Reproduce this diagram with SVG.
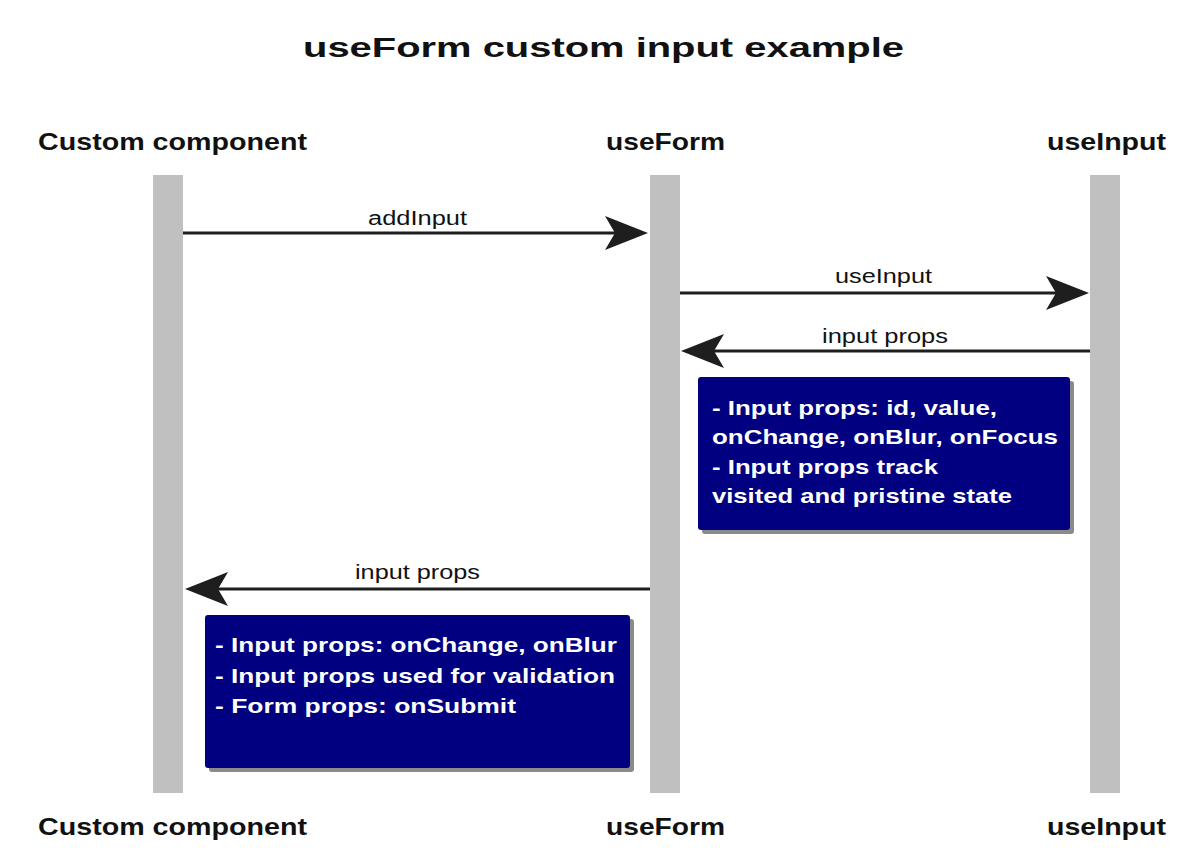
<svg xmlns="http://www.w3.org/2000/svg" width="1204" height="862" viewBox="0 0 1204 862">
<style>
.title{font-family:"Liberation Sans",Arial,sans-serif;font-weight:bold;font-size:27px;fill:#111}
.actor{font-family:"Liberation Sans",Arial,sans-serif;font-weight:bold;font-size:24px;fill:#111}
.msg{font-family:"Liberation Sans",Arial,sans-serif;font-size:20px;fill:#111}
.note{font-family:"Liberation Sans",Arial,sans-serif;font-weight:bold;font-size:21px;fill:#fff}
.bar{fill:#c0c0c0}
.box{fill:#000080}
.shadow{fill:#8a8a8a}
.line{stroke:#1e1e1e;stroke-width:3;fill:none}
</style>
<defs>
<marker id="ah" viewBox="0 0 43 34" refX="13" refY="17" markerWidth="43" markerHeight="34" markerUnits="userSpaceOnUse" orient="auto">
<path d="M0,0 L43,17 L0,34 L10,17 Z" fill="#1e1e1e"/>
</marker>
</defs>
<rect width="1204" height="862" fill="#fff"/>
<text class="title" x="303" y="57" textLength="601" lengthAdjust="spacingAndGlyphs">useForm custom input example</text>

<g id="custom-component">
<rect class="bar" x="153" y="175" width="30" height="618"/>
<text class="actor" x="38" y="150" textLength="269" lengthAdjust="spacingAndGlyphs">Custom component</text>
<text class="actor" x="38" y="835" textLength="269" lengthAdjust="spacingAndGlyphs">Custom component</text>
</g>
<g id="useForm">
<rect class="bar" x="650" y="175" width="30" height="618"/>
<text class="actor" x="606" y="150" textLength="119" lengthAdjust="spacingAndGlyphs">useForm</text>
<text class="actor" x="606" y="835" textLength="119" lengthAdjust="spacingAndGlyphs">useForm</text>
</g>
<g id="useInput">
<rect class="bar" x="1090" y="175" width="30" height="618"/>
<text class="actor" x="1047" y="150" textLength="119" lengthAdjust="spacingAndGlyphs">useInput</text>
<text class="actor" x="1047" y="835" textLength="119" lengthAdjust="spacingAndGlyphs">useInput</text>
</g>

<g id="connectors">
<line class="line" x1="183" y1="233" x2="618" y2="233" marker-end="url(#ah)"/>
<text class="msg" x="368" y="225" textLength="99" lengthAdjust="spacingAndGlyphs">addInput</text>
<line class="line" x1="680" y1="293" x2="1059" y2="293" marker-end="url(#ah)"/>
<text class="msg" x="835" y="283" textLength="97" lengthAdjust="spacingAndGlyphs">useInput</text>
<line class="line" x1="1090" y1="351" x2="711" y2="351" marker-end="url(#ah)"/>
<text class="msg" x="822" y="343" textLength="126" lengthAdjust="spacingAndGlyphs">input props</text>
<line class="line" x1="650" y1="589" x2="215" y2="589" marker-end="url(#ah)"/>
<text class="msg" x="355" y="579" textLength="125" lengthAdjust="spacingAndGlyphs">input props</text>
</g>

<g id="note-useForm">
<rect class="shadow" x="702" y="381" width="372" height="153" rx="3"/>
<rect class="box" x="698" y="377" width="372" height="153" rx="3"/>
<text class="note" x="712" y="415" textLength="285" lengthAdjust="spacingAndGlyphs">- Input props: id, value,</text>
<text class="note" x="712" y="444" textLength="346" lengthAdjust="spacingAndGlyphs">onChange, onBlur, onFocus</text>
<text class="note" x="712" y="474" textLength="226" lengthAdjust="spacingAndGlyphs">- Input props track</text>
<text class="note" x="712" y="503" textLength="300" lengthAdjust="spacingAndGlyphs">visited and pristine state</text>
</g>

<g id="note-custom">
<rect class="shadow" x="209" y="619" width="425" height="153" rx="3"/>
<rect class="box" x="205" y="615" width="425" height="153" rx="3"/>
<text class="note" x="215" y="652" textLength="402" lengthAdjust="spacingAndGlyphs">- Input props: onChange, onBlur</text>
<text class="note" x="215" y="683" textLength="400" lengthAdjust="spacingAndGlyphs">- Input props used for validation</text>
<text class="note" x="215" y="713" textLength="301" lengthAdjust="spacingAndGlyphs">- Form props: onSubmit</text>
</g>
</svg>
